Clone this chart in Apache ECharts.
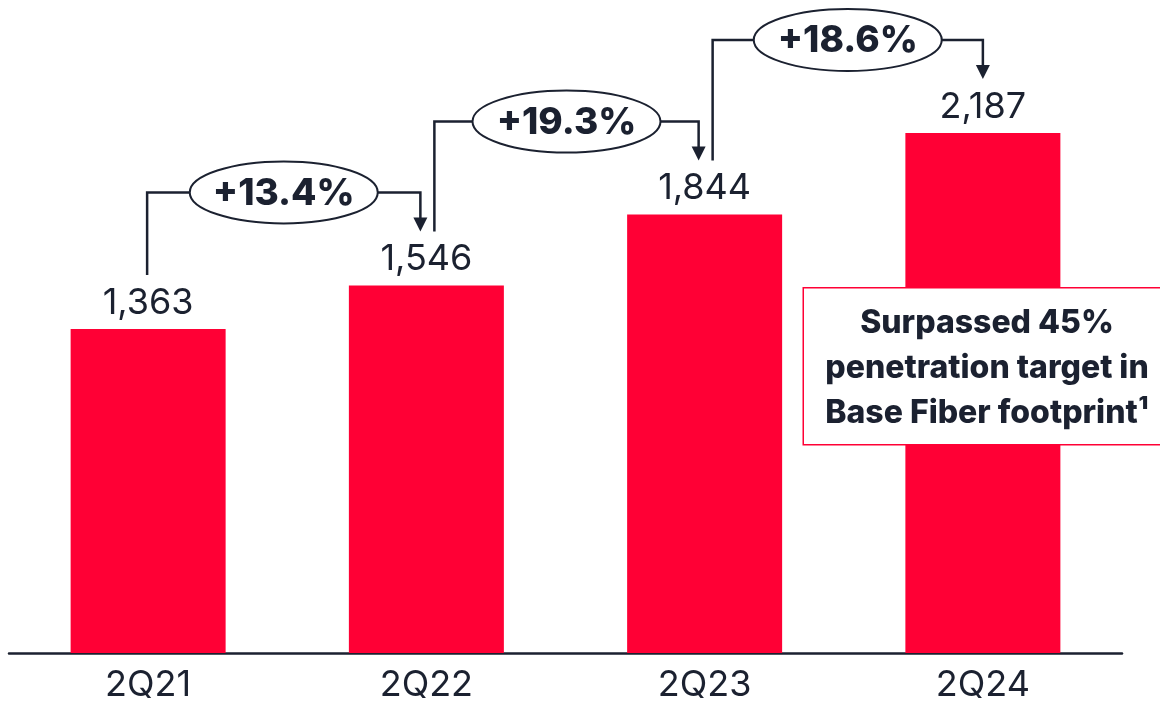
<!DOCTYPE html>
<html>
<head>
<meta charset="utf-8">
<script src="https://cdn.jsdelivr.net/npm/echarts@6/dist/echarts.min.js"></script>
<style>
html,body{margin:0;padding:0;background:#fff;}
#main{width:1160px;height:703px;}
</style>
</head>
<body>
<div id="main"></div>
<script>
const categories = ['2Q21', '2Q22', '2Q23', '2Q24'];
const values = [1363, 1546, 1844, 2187];
const growthLabels = ['+13.4%', '+19.3%', '+18.6%'];
const noteLines = ['Surpassed 45%', 'penetration target in', 'Base Fiber footprint\u00b9'];

const DARK = '#1b2130';
const RED = '#FF0035';
const FONT = 'Inter';

const chart = echarts.init(document.getElementById('main'));
chart.setOption({
  animation: false,
  backgroundColor: '#fff',
  grid: { left: 9, right: 38, top: 11, bottom: 50 },
  xAxis: {
    type: 'category',
    data: categories,
    axisLine: { show: true, lineStyle: { color: DARK, width: 2.5 } },
    axisTick: { show: false },
    axisLabel: { fontSize: 36, color: DARK, fontFamily: FONT, margin: 14 }
  },
  yAxis: {
    type: 'value', min: 0, max: 2700,
    show: false, splitLine: { show: false }
  },
  series: [{
    type: 'bar',
    data: values,
    barWidth: 155,
    itemStyle: { color: RED },
    label: {
      show: true, position: 'top', distance: 8,
      fontSize: 36, color: DARK, fontFamily: FONT,
      formatter: p => p.value.toLocaleString('en-US')
    }
  }]
});

function buildGraphics() {
  const els = [];
  const pts = values.map((v, i) => chart.convertToPixel({ seriesIndex: 0 }, [i, v]));
  const gapAbove = 54;   // gap between bar top and bracket ends
  const rise = 39;       // bracket horizontal above arrow tip
  for (let i = 0; i < values.length - 1; i++) {
    const a = pts[i], b = pts[i + 1];
    const startX = a[0] + (i === 0 ? -1 : 8);
    const startY = a[1] - gapAbove;
    const endX = b[0] + (i + 1 === values.length - 1 ? 0 : -6);
    const tipY = b[1] - gapAbove;
    const hy = tipY - rise;
    els.push({
      type: 'polyline', z: 100,
      shape: { points: [[startX, startY], [startX, hy], [endX, hy], [endX, tipY - 12]] },
      style: { stroke: DARK, lineWidth: 2.5, fill: null }
    });
    els.push({
      type: 'polygon', z: 101,
      shape: { points: [[endX - 7, tipY - 14], [endX + 7, tipY - 14], [endX, tipY]] },
      style: { fill: DARK }
    });
    const cx = (startX + endX) / 2;
    els.push({
      type: 'ellipse', z: 102,
      shape: { cx: cx, cy: hy, rx: 94, ry: 31 },
      style: { fill: '#fff', stroke: DARK, lineWidth: 2 }
    });
    els.push({
      type: 'text', z: 103,
      x: cx, y: hy + 1,
      style: {
        text: growthLabels[i], fill: DARK, fontSize: 37, fontWeight: 800,
        fontFamily: FONT, align: 'center', verticalAlign: 'middle'
      }
    });
  }
  // note box
  els.push({
    type: 'rect', right: -12, top: 287, z: 200,
    shape: { width: 368, height: 157 },
    style: { fill: '#fff', stroke: RED, lineWidth: 1.5 }
  });
  els.push({
    type: 'text', x: 987, y: 368, z: 201,
    style: {
      text: noteLines.join('\n'), fill: DARK, fontSize: 32, fontWeight: 800,
      fontFamily: FONT, align: 'center', verticalAlign: 'middle', lineHeight: 45
    }
  });
  chart.setOption({ graphic: els });
}
buildGraphics();
</script>
</body>
</html>
